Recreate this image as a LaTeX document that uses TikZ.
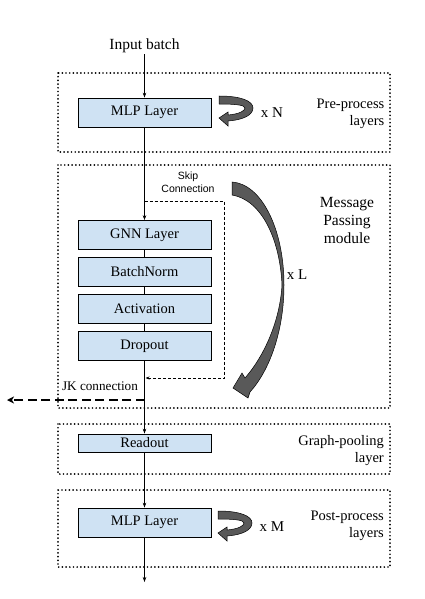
\documentclass[tikz,border=0pt]{standalone}
\usepackage{fontspec}
\setmainfont{Liberation Serif}
\newfontfamily\skipfont{Liberation Sans}
\usepackage{tikz}
\usetikzlibrary{arrows.meta,positioning,calc}
\definecolor{layerblue}{RGB}{207,226,243}
\definecolor{curlgray}{RGB}{89,89,89}

\begin{document}
\begin{tikzpicture}[x=1pt,y=-1pt]
\tikzset{
    layer/.style={
       draw, fill=layerblue, line width=0.8pt,
       minimum width=133pt, minimum height=29pt, inner sep=0pt,
       font=\fontsize{14.5}{17}\selectfont
    },
    group/.style={
       line width=1.9pt, line cap=round,
       dash pattern=on 0pt off 3.7pt
    },
    flow/.style={-{Stealth[length=5pt,width=3.5pt]}, line width=0.6pt},
    curl/.style={fill=curlgray, draw=black, line width=0.5pt},
    side label/.style={
       font=\fontsize{14.5}{17}\selectfont,
       align=right, anchor=east, inner sep=0pt
    }
}
\useasboundingbox (0,0) rectangle (424,599);
%
% dotted groups
\draw[group] (58,73) rectangle (390,152);
\draw[group] (58,165) rectangle (390,408);
\draw[group] (58,424) rectangle (390,474);
\draw[group] (58,490) rectangle (390,567);

% layers
\node[font=\fontsize{15.5}{18}\selectfont, inner sep=1pt] (input) at (144.5,46) {Input batch};
\node[layer] (mlp1) at (144.5,112.5) {MLP Layer};
\node[layer] (gnn) at (144.5,235) {GNN Layer};
\node[layer] (bn) at (144.5,271.5) {BatchNorm};
\node[layer] (act) at (144.5,308.5) {Activation};
\node[layer] (drop) at (144.5,346) {Dropout};
\node[layer, minimum height=18pt] (readout) at (144.5,443) {Readout};
\node[layer] (mlp2) at (144.5,522.5) {MLP Layer};
\coordinate (skip) at (144.5,201);
\coordinate (skipend) at (145.5,378);
\coordinate (jk) at (144.5,400);
\coordinate (jkend) at (7,400);
\coordinate (out) at (144.5,582);

% connectors
\draw[flow] (input) -- (mlp1);
\draw[flow] (mlp1) -- (gnn);
\draw[line width=0.6pt] (gnn) -- (bn);
\draw[line width=0.6pt] (bn) -- (act);
\draw[line width=0.6pt] (act) -- (drop);
\draw[flow] (drop) -- (readout);
\draw[flow] (readout) -- (mlp2);
\draw[flow] (mlp2) -- (out);
\draw[dashed, dash pattern=on 3pt off 2pt, line width=0.6pt,
      -{Stealth[length=4pt,width=3pt]}]
      (skip) -- (224,201) -- (224,378) -- (skipend);
\draw[line width=2pt, dash pattern=on 9pt off 4.5pt,
      -{Stealth[length=7pt,width=7pt,inset=2pt]}] (jk) -- (jkend);

% labels
\node[font=\skipfont\fontsize{10.5}{13}\selectfont, align=center, inner sep=0pt] (skiplbl) at (188,182.5) {Skip\\Connection};
\node[font=\fontsize{13.2}{16}\selectfont, inner sep=0pt] (jklbl) at (100,386) {JK connection};
\node[side label] (prelbl) at (384.5,113.5) {Pre-process\\layers};
\node[font=\fontsize{15.5}{18}\selectfont, align=center, inner sep=0pt] (mplbl) at (347,220) {Message\\Passing\\module};
\node[side label] (poollbl) at (384,450.5) {Graph-pooling\\layer};
\node[side label] (postlbl) at (384,526) {Post-process\\layers};
\node[font=\fontsize{15}{17}\selectfont, inner sep=0pt] (xn) at (272,113) {x N};
\node[font=\fontsize{15}{17}\selectfont, inner sep=0pt] (xl) at (297,275) {x L};
\node[font=\fontsize{15}{17}\selectfont, inner sep=0pt] (xm) at (272,527) {x M};

% repeat arrows
\begin{scope}[shift={(219,96)}]
\filldraw[curl] (0,0) .. controls (22,0) and (34,5) .. (34,12)
   .. controls (34,19) and (24,24) .. (9,25) -- (9,30) -- (0,22) -- (9,16) -- (9,19)
   .. controls (20,18) and (26,15) .. (26,12) .. controls (26,9) and (16,8) .. (0,8) -- cycle;
\end{scope}
\begin{scope}[shift={(218,511)}]
\filldraw[curl] (0,0) .. controls (22,0) and (34,5) .. (34,12)
   .. controls (34,19) and (24,24) .. (9,25) -- (9,30) -- (0,22) -- (9,16) -- (9,19)
   .. controls (20,18) and (26,15) .. (26,12) .. controls (26,9) and (16,8) .. (0,8) -- cycle;
\end{scope}
\filldraw[curl] (232,182) .. controls (262,184) and (284,230) .. (284,285)
   .. controls (284,330) and (270,370) .. (250,392) -- (248,398) -- (233,388)
   -- (242,373) -- (245,378)
   .. controls (265,355) and (280,320) .. (282,285)
   .. controls (280,240) and (262,200) .. (232,195) -- cycle;
\end{tikzpicture}
\end{document}
